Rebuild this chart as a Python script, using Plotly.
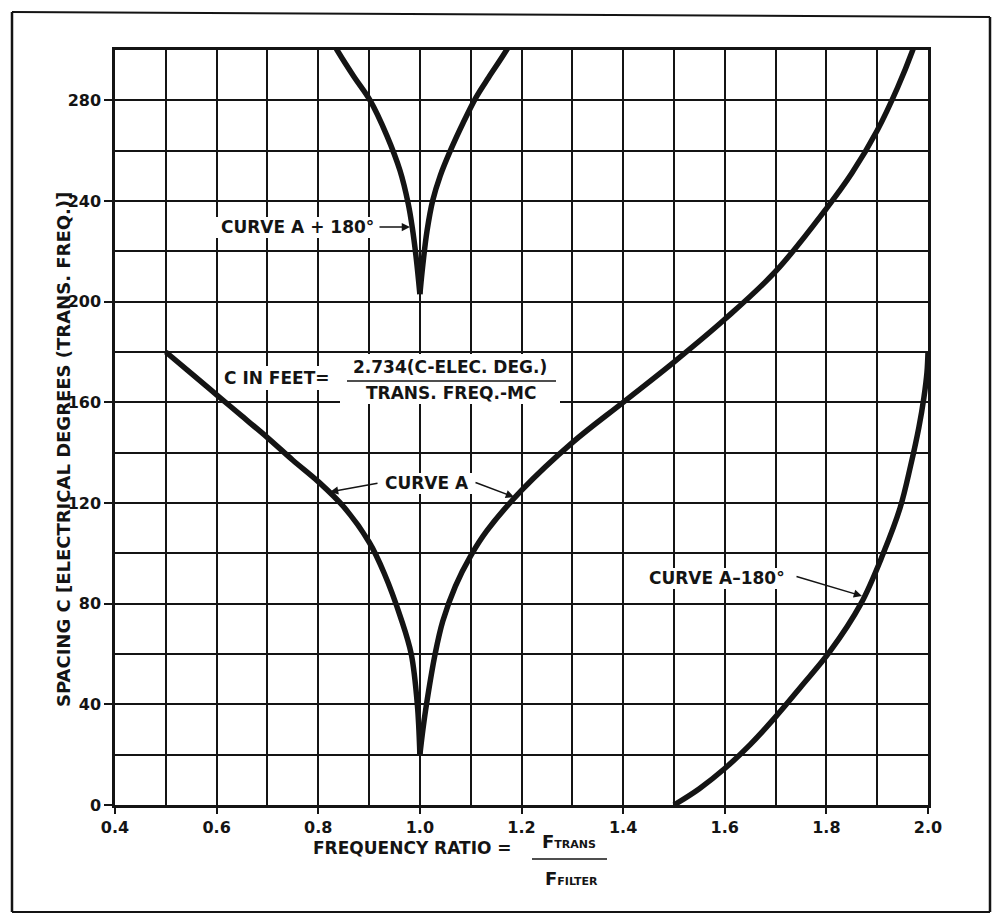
import plotly.graph_objects as go

# ---------------- data ----------------
A_left_x = [0.50, 0.55, 0.60, 0.65, 0.70, 0.75, 0.80, 0.85, 0.90, 0.93, 0.963, 0.983, 0.995, 1.00]
A_left_y = [180, 171.5, 163, 154.5, 146, 137, 128.5, 118.5, 104.5, 92, 74, 60, 40, 20]

A_right_x = [1.00, 1.006, 1.013, 1.030, 1.045, 1.07, 1.10, 1.132, 1.20, 1.30, 1.40, 1.50,
             1.60, 1.70, 1.80, 1.85, 1.90, 1.94, 1.97, 1.99]
A_right_y = [20, 30, 40, 60, 73, 87, 99, 109, 125, 144, 160, 176,
             193, 212, 237, 251, 268, 285, 300, 312]

Ap180_left_x = [0.82, 0.837, 0.87, 0.902, 0.935, 0.961, 0.977, 0.985, 0.993, 1.00]
Ap180_left_y = [306, 300, 289.5, 280, 266, 252, 239, 229.5, 217, 203]
Ap180_right_x = [1.00, 1.006, 1.014, 1.025, 1.04, 1.06, 1.085, 1.11, 1.135, 1.158, 1.18]
Ap180_right_y = [203, 215, 228, 240, 250, 260, 271, 281, 289, 296, 303]

Am180_x = [1.50, 1.55, 1.60, 1.65, 1.70, 1.75, 1.807, 1.868, 1.912, 1.945,
           1.966, 1.982, 1.992, 1.998, 2.0]
Am180_y = [0, 6.5, 14.5, 24, 35, 47, 61, 80, 100, 118,
           135, 150, 162, 172, 180]

x_tickvals = [0.4, 0.6, 0.8, 1.0, 1.2, 1.4, 1.6, 1.8, 2.0]
x_ticktext = ["0.4", "0.6", "0.8", "1.0", "1.2", "1.4", "1.6", "1.8", "2.0"]
y_tickvals = [0, 40, 80, 120, 160, 200, 240, 280]
y_ticktext = ["0", "40", "80", "120", "160", "200", "240", "280"]

# ---------------- styling ----------------
INK = "#141414"
FONT = "DejaVu Sans"
W, H = 996, 917
L, R, T, B = 115, 928, 50, 805   # plot area in pixels


def P(xp, yp):
    """pixel -> paper coordinates"""
    return (xp - L) / (R - L), (B - yp) / (B - T)


fig = go.Figure()
line = dict(color=INK, width=5.5, shape="spline", smoothing=1.0)
for xs, ys in [(A_left_x, A_left_y), (A_right_x, A_right_y),
               (Ap180_left_x, Ap180_left_y), (Ap180_right_x, Ap180_right_y),
               (Am180_x, Am180_y)]:
    fig.add_trace(go.Scatter(x=xs, y=ys, mode="lines", line=line,
                             hoverinfo="skip", showlegend=False))

axis_common = dict(showline=True, linecolor=INK, linewidth=2.5, mirror=True,
                   showgrid=True, gridcolor=INK, gridwidth=1.6,
                   ticks="outside", tickcolor=INK, tickwidth=1.6,
                   zeroline=False,
                   tickfont=dict(family=FONT, size=16, color=INK, weight="bold"))

fig.update_layout(
    width=W, height=H,
    margin=dict(l=L, r=W - R, t=T, b=H - B),
    paper_bgcolor="white", plot_bgcolor="white",
    showlegend=False,
    xaxis=dict(range=[0.4, 2.0], tickmode="array", tickvals=x_tickvals, ticktext=x_ticktext,
               ticklen=6,
               minor=dict(tickmode="linear", tick0=0.4, dtick=0.1, showgrid=True,
                          gridcolor=INK, gridwidth=1.6, ticks=""),
               **axis_common),
    yaxis=dict(range=[0, 300], tickmode="array", tickvals=y_tickvals, ticktext=y_ticktext,
               ticklen=8,
               minor=dict(tickmode="linear", tick0=0, dtick=20, showgrid=True,
                          gridcolor=INK, gridwidth=1.6, ticks=""),
               **axis_common),
)

ann = []


def text(xp, yp, s, size=17, xanchor="center", angle=0):
    x, y = P(xp, yp)
    ann.append(dict(x=x, y=y, xref="paper", yref="paper", text=s, showarrow=False,
                    xanchor=xanchor, yanchor="middle", textangle=angle,
                    font=dict(family=FONT, size=size, color=INK, weight="bold")))


def arrow(tip_px, tail_px):
    x, y = P(*tip_px)
    ann.append(dict(x=x, y=y, xref="paper", yref="paper", text="",
                    showarrow=True, arrowhead=2, arrowsize=1.1, arrowwidth=1.5,
                    arrowcolor=INK, ax=tail_px[0] - tip_px[0], ay=tail_px[1] - tip_px[1],
                    standoff=0, startstandoff=0))


# curve labels
text(297, 227, "CURVE A + 180°")
arrow((410, 227), (378, 227))
text(427, 483, "CURVE A")
arrow((330, 492), (379, 483))
arrow((514, 497), (474, 482))
text(717, 578, "CURVE A\u2013180°")
arrow((862, 596), (795, 576))

# formula
text(222, 378, "C IN FEET=", xanchor="left")
text(450, 367, "2.734(C-ELEC. DEG.)")
text(451, 393, "TRANS. FREQ.-MC")

# axis titles
text(63, 450, "SPACING C [ELECTRICAL DEGREES (TRANS. FREQ.)]", size=18, angle=-90)
text(412, 848, "FREQUENCY RATIO =")
text(569, 842, "F<span style='font-size:11px'>TRANS</span>", size=18)
text(571, 878, "F<span style='font-size:11px'>FILTER</span>", size=18)

fig.update_layout(annotations=ann)

shapes = []


def seg(p0, p1, w=1.5):
    x0, y0 = P(*p0)
    x1, y1 = P(*p1)
    shapes.append(dict(type="line", xref="paper", yref="paper", x0=x0, y0=y0, x1=x1, y1=y1,
                       line=dict(color=INK, width=w)))


def blank(x0p, y0p, x1p, y1p):
    """white patch that interrupts the grid behind a label"""
    x0, y0 = P(x0p, y0p)
    x1, y1 = P(x1p, y1p)
    shapes.append(dict(type="rect", xref="paper", yref="paper", x0=x0, y0=y0, x1=x1, y1=y1,
                       fillcolor="white", line=dict(width=0), layer="above"))


# label backgrounds (grid broken around lettering)
blank(216, 217, 377, 238)
blank(221, 366, 345, 390)
blank(340, 354, 560, 404)
blank(378, 473, 474, 494)
blank(638, 568, 795, 589)

# fraction bars
seg((347, 381), (556, 381), 1.6)
seg((532, 859), (607, 859), 1.6)
# outer frame
seg((12, 12), (990, 17), 2)
seg((12, 12), (12, 912), 2.5)
seg((990, 17), (990, 912), 2.5)
seg((12, 912), (990, 912), 2)

fig.update_layout(shapes=shapes)

fig.write_html("out.html", config={"displayModeBar": False},
               post_script="document.body.style.margin='0px';")
